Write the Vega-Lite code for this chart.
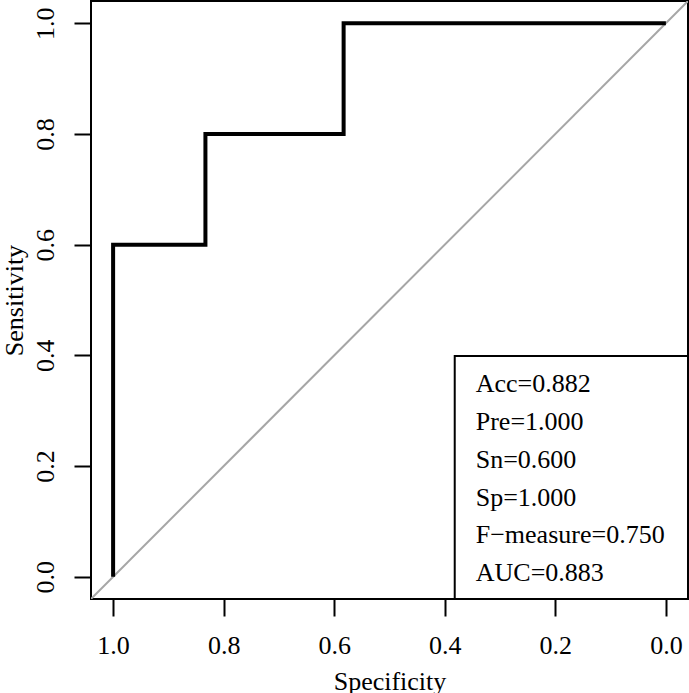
{
  "$schema": "https://vega.github.io/schema/vega-lite/v6.json",
  "width": 597,
  "height": 598,
  "autosize": {"type": "none"},
  "padding": {"left": 91, "top": 1, "right": 1, "bottom": 94},
  "background": "white",
  "config": {
    "view": {"stroke": "black", "strokeWidth": 2, "fill": "white"},
    "font": "Liberation Serif, Times New Roman, serif",
    "axis": {
      "grid": false,
      "domain": false,
      "ticks": true,
      "tickSize": 17,
      "tickWidth": 2,
      "tickColor": "black",
      "labelFont": "Liberation Serif, Times New Roman, serif",
      "labelFontSize": 26,
      "labelColor": "black",
      "titleFont": "Liberation Serif, Times New Roman, serif",
      "titleFontSize": 26,
      "titleFontWeight": "normal",
      "titleColor": "black",
      "labelFlush": false,
      "labelOverlap": false
    }
  },
  "datasets": {
    "roc": [
      {"specificity": 1.0, "sensitivity": 0.0, "order": 1},
      {"specificity": 1.0, "sensitivity": 0.6, "order": 2},
      {"specificity": 0.833, "sensitivity": 0.6, "order": 3},
      {"specificity": 0.833, "sensitivity": 0.8, "order": 4},
      {"specificity": 0.583, "sensitivity": 0.8, "order": 5},
      {"specificity": 0.583, "sensitivity": 1.0, "order": 6},
      {"specificity": 0.0, "sensitivity": 1.0, "order": 7}
    ],
    "one": [{}]
  },
  "layer": [
    {
      "data": {"name": "one"},
      "mark": {"type": "rule", "color": "#a6a6a6", "strokeWidth": 2, "clip": true},
      "encoding": {
        "x": {"datum": 1.04, "type": "quantitative", "scale": {"domain": [-0.04, 1.04], "reverse": true, "nice": false, "zero": false},
          "axis": {"values": [0, 0.2, 0.4, 0.6, 0.8, 1.0], "format": ".1f", "title": "Specificity", "labelPadding": 16, "titleY": 90, "titleBaseline": "alphabetic"}},
        "y": {"datum": -0.04, "type": "quantitative", "scale": {"domain": [-0.04, 1.04], "nice": false, "zero": false},
          "axis": {"values": [0, 0.2, 0.4, 0.6, 0.8, 1.0], "format": ".1f", "title": "Sensitivity", "labelAngle": -90, "labelAlign": "center", "labelBaseline": "alphabetic", "labelPadding": 21, "titleAngle": -90, "titleX": -69, "titleBaseline": "alphabetic"}},
        "x2": {"datum": -0.04},
        "y2": {"datum": 1.04}
      }
    },
    {
      "data": {"name": "roc"},
      "mark": {"type": "line", "color": "black", "strokeWidth": 4, "strokeJoin": "miter", "strokeCap": "butt"},
      "encoding": {
        "x": {"field": "specificity", "type": "quantitative"},
        "y": {"field": "sensitivity", "type": "quantitative"},
        "order": {"field": "order", "type": "quantitative"}
      }
    },
    {
      "data": {"name": "one"},
      "mark": {"type": "rect", "fill": "white", "stroke": "black", "strokeWidth": 2},
      "encoding": {
        "x": {"datum": 0.382, "type": "quantitative"},
        "x2": {"datum": -0.04},
        "y": {"datum": -0.04, "type": "quantitative"},
        "y2": {"datum": 0.399}
      }
    },
    {
      "data": {"name": "one"},
      "mark": {"type": "text", "align": "left", "baseline": "alphabetic", "font": "Liberation Serif, Times New Roman, serif", "fontSize": 26, "lineHeight": 37.7, "color": "black",
        "text": ["Acc=0.882", "Pre=1.000", "Sn=0.600", "Sp=1.000", "F\u2212measure=0.750", "AUC=0.883"]},
      "encoding": {
        "x": {"datum": 0.344, "type": "quantitative"},
        "y": {"datum": 0.333, "type": "quantitative"}
      }
    }
  ]
}
